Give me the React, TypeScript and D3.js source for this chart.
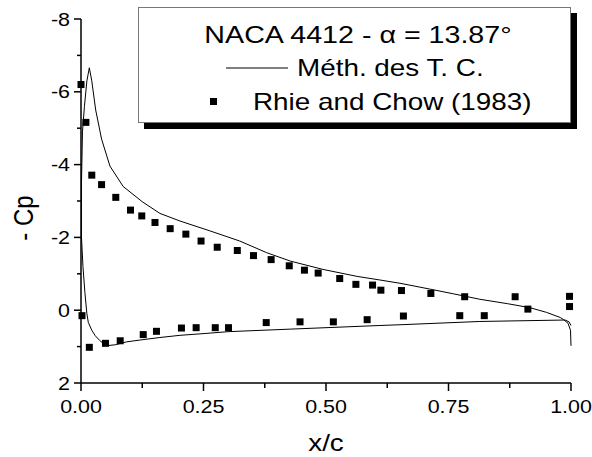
import React from "react";
import * as d3 from "d3";

const W = 592;
const H = 457;

const xTicks = [0, 0.25, 0.5, 0.75, 1.0];
const xTickLabels = ["0.00", "0.25", "0.50", "0.75", "1.00"];
const xMinorTicks = [0.125, 0.375, 0.625, 0.875];
const yTicks = [-8, -6, -4, -2, 0, 2];
const yTickLabels = ["-8", "-6", "-4", "-2", "0", "2"];
const yMinorTicks = [-7, -5, -3, -1, 1];

const legendTitle = "NACA 4412 - α = 13.87°";
const lineName = "Méth. des T. C.";
const pointsName = "Rhie and Chow (1983)";

// Méth. des T. C. curve (x/c, Cp), traced in order: upper surface TE -> LE, then lower surface LE -> TE
const curveX = [
  1.0, 0.999, 0.994, 0.985, 0.978, 0.95, 0.916, 0.87, 0.814, 0.76, 0.712, 0.651, 0.61, 0.563,
  0.494, 0.427, 0.379, 0.324, 0.263, 0.202, 0.161, 0.125, 0.086, 0.059, 0.042, 0.03, 0.022,
  0.017, 0.012, 0.007, 0.003, 0.001, 0.001, 0.004, 0.008, 0.012, 0.015, 0.022, 0.029, 0.038,
  0.046, 0.056, 0.07, 0.093, 0.12, 0.161, 0.202, 0.243, 0.3, 0.427, 0.5, 0.61, 0.651, 0.814,
  0.9, 0.988, 0.996, 1.0,
];
const curveCp = [
  0.98, 0.55, 0.36, 0.26, 0.2, 0.06, -0.07, -0.18, -0.3, -0.45, -0.58, -0.74, -0.83, -0.93,
  -1.12, -1.35, -1.58, -1.9, -2.18, -2.45, -2.66, -2.98, -3.4, -3.96, -4.7, -5.5, -6.3,
  -6.66, -6.3, -5.6, -4.9, -3.5, -2.0, -1.2, -0.48, 0.1, 0.34, 0.55, 0.7, 0.83,
  0.92, 0.97, 0.95, 0.87, 0.82, 0.75, 0.69, 0.65, 0.59, 0.52, 0.48, 0.42, 0.4, 0.31,
  0.29, 0.27, 0.32, 0.42,
];

// Rhie and Chow (1983) data points
const rcX = [
  0.0, 0.01, 0.022, 0.042, 0.071, 0.101, 0.124, 0.151, 0.182, 0.214, 0.245, 0.278, 0.319,
  0.352, 0.388, 0.425, 0.456, 0.484, 0.528, 0.561, 0.595, 0.612, 0.654, 0.714, 0.783, 0.886,
  0.912, 0.997, 0.997,
  0.002, 0.017, 0.05, 0.08, 0.127, 0.154, 0.205, 0.235, 0.274, 0.301, 0.378, 0.447, 0.515,
  0.584, 0.658, 0.773, 0.823,
];
const rcCp = [
  -6.2, -5.16, -3.71, -3.45, -3.1, -2.75, -2.59, -2.41, -2.24, -2.09, -1.9, -1.73, -1.64,
  -1.5, -1.39, -1.22, -1.1, -1.02, -0.87, -0.71, -0.69, -0.55, -0.54, -0.46, -0.37, -0.37,
  -0.03, -0.38, -0.1,
  0.15, 1.02, 0.91, 0.84, 0.67, 0.58, 0.49, 0.48, 0.48, 0.48, 0.34, 0.32, 0.32,
  0.26, 0.16, 0.15, 0.15,
];

const FONT = "'Liberation Sans', Arial, Helvetica, sans-serif";
const SX = 1.16;

export default function App() {
  const x = d3.scaleLinear().domain([0, 1]).range([81, 571]);
  const y = d3.scaleLinear().domain([-8, 2]).range([19, 383]);

  const curvePts: [number, number][] = curveX.map((v, i) => [v, curveCp[i]]);
  const line = d3
    .line<[number, number]>()
    .x((d) => x(d[0]))
    .y((d) => y(d[1]))
    .curve(d3.curveLinear);

  const sq = 7;
  const x0 = x(0);
  const yB = y(2);

  return (
    <svg
      width={W}
      height={H}
      style={{ position: "absolute", left: 0, top: 0, background: "#fff" }}
      fontFamily={FONT}
    >
      <rect x={0} y={0} width={W} height={H} fill="#fff" />

      {/* curve */}
      <path d={line(curvePts) || ""} fill="none" stroke="#000" strokeWidth={1} />

      {/* points */}
      {rcX.map((v, i) => (
        <rect
          key={i}
          x={x(v) - sq / 2}
          y={y(rcCp[i]) - sq / 2}
          width={sq}
          height={sq}
          fill="#000"
        />
      ))}

      {/* axes */}
      <line x1={x0} x2={x0} y1={y(-8)} y2={yB} stroke="#000" strokeWidth={1.5} />
      <line x1={x0} x2={x(1)} y1={yB} y2={yB} stroke="#000" strokeWidth={1.5} />

      {yTicks.map((t, i) => (
        <g key={"yt" + i}>
          <line x1={x0 - 7} x2={x0} y1={y(t)} y2={y(t)} stroke="#000" strokeWidth={1.5} />
          <text
            transform={`translate(${x0 - 11},${y(t) + 6.5}) scale(${SX},1)`}
            textAnchor="end"
            fontSize={18.5}
            fill="#000"
          >
            {yTickLabels[i]}
          </text>
        </g>
      ))}
      {yMinorTicks.map((t, i) => (
        <line key={"ym" + i} x1={x0 - 4} x2={x0} y1={y(t)} y2={y(t)} stroke="#000" strokeWidth={1.5} />
      ))}

      {xTicks.map((t, i) => (
        <g key={"xt" + i}>
          <line x1={x(t)} x2={x(t)} y1={yB} y2={yB + 8} stroke="#000" strokeWidth={1.5} />
          <text
            transform={`translate(${x(t)},${yB + 30}) scale(${SX},1)`}
            textAnchor="middle"
            fontSize={18.5}
            fill="#000"
          >
            {xTickLabels[i]}
          </text>
        </g>
      ))}
      {xMinorTicks.map((t, i) => (
        <line key={"xm" + i} x1={x(t)} x2={x(t)} y1={yB} y2={yB + 5} stroke="#000" strokeWidth={1.5} />
      ))}

      {/* axis titles */}
      <text
        transform={`translate(${(x(0) + x(1)) / 2},451) scale(${SX},1)`}
        textAnchor="middle"
        fontSize={24}
        fill="#000"
      >
        x/c
      </text>
      <text
        transform={`translate(33,218) rotate(-90) scale(1,${SX})`}
        textAnchor="middle"
        fontSize={24}
        fill="#000"
      >
        - Cp
      </text>

      {/* legend */}
      <rect x={144} y={13} width={433} height={116} fill="#000" />
      <rect x={138.5} y={7.5} width={432} height={115} fill="#fff" stroke="#777" strokeWidth={1} />
      <text
        transform={`translate(358,43) scale(${SX * 1.02},1)`}
        textAnchor="middle"
        fontSize={24.2}
        fill="#000"
      >
        {legendTitle}
      </text>
      <line x1={226} x2={288} y1={68} y2={68} stroke="#000" strokeWidth={1} />
      <text transform={`translate(297,76) scale(${SX},1)`} fontSize={24} fill="#000">
        {lineName}
      </text>
      <rect x={213.5 - 3.5} y={101.5 - 3.5} width={7} height={7} fill="#000" />
      <text transform={`translate(253,110) scale(${SX},1)`} fontSize={24} fill="#000">
        {pointsName}
      </text>
    </svg>
  );
}
